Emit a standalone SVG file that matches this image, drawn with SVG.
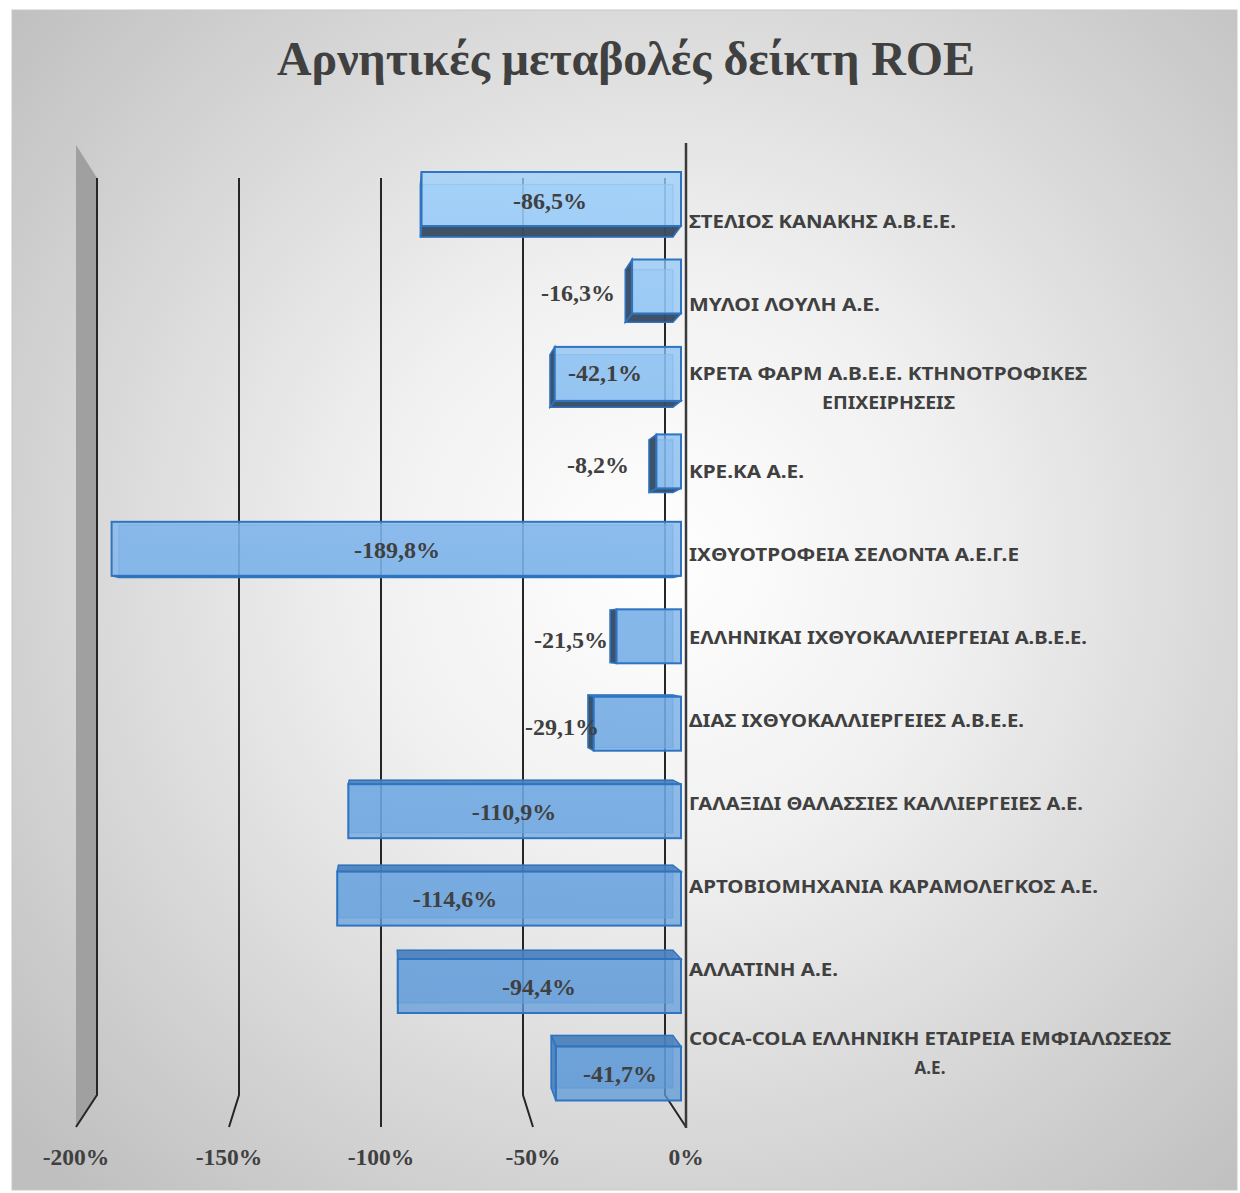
<svg xmlns="http://www.w3.org/2000/svg" width="1240" height="1193" viewBox="0 0 1240 1193">
<defs>
<radialGradient id="bg" gradientUnits="userSpaceOnUse" cx="660" cy="560" r="860">
<stop offset="0" stop-color="#ffffff"/>
<stop offset="0.35" stop-color="#f0f0f0"/>
<stop offset="1" stop-color="#bfbfbf"/>
</radialGradient>
<linearGradient id="barg" gradientUnits="userSpaceOnUse" x1="0" y1="170" x2="0" y2="1100">
<stop offset="0" stop-color="#9ccffa"/>
<stop offset="0.42" stop-color="#7bb2ea"/>
<stop offset="1" stop-color="#5e99d6"/>
</linearGradient>
<style>
.grid{fill:none;stroke:#262626;stroke-width:2}
.axis{fill:none;stroke:#3a3a3a;stroke-width:2.5}
.back{fill:url(#barg);fill-opacity:0.55;stroke:#5b9be0;stroke-opacity:0.7;stroke-width:1.2}
.front{fill:url(#barg);fill-opacity:0.76;stroke:#2f74c0;stroke-width:2}
.dark{fill:#33475c;fill-opacity:0.92;stroke:#2f74c0;stroke-width:1.5}
.topf{fill:#4a7db8;fill-opacity:0.85;stroke:#2f74c0;stroke-width:1.5}
.val{font-family:"Liberation Serif","Times New Roman",serif;font-weight:bold;font-size:24px;fill:#404040;text-anchor:middle}
.cat{font-family:"Noto Sans","Open Sans","Liberation Sans",sans-serif;font-weight:bold;font-size:17px;fill:#404040}
.tick{font-family:"Liberation Serif","Times New Roman",serif;font-weight:bold;font-size:23.5px;fill:#404040;text-anchor:middle}
</style>
</defs>
<rect x="0" y="0" width="1240" height="1193" fill="#ffffff"/>
<rect id="chartArea" x="12" y="10" width="1225" height="1180" fill="url(#bg)" stroke="#c8c8c8" stroke-width="1"/>
<text id="title" x="626" y="75" font-family="'Liberation Serif','Times New Roman',serif" font-weight="bold" font-size="48" fill="#404040" text-anchor="middle" textLength="698" lengthAdjust="spacingAndGlyphs">Αρνητικές μεταβολές δείκτη ROE</text>

<g id="walls">
<polygon points="76,145 97,178 97,1095 76,1127" fill="#a0a0a0"/>
</g>
<g id="gridlines">
<polyline class="grid" points="97,178 97,1095 76,1127"/>
<polyline class="grid" points="239,178 239,1095 229,1127"/>
<polyline class="grid" points="381,178 381,1127"/>
<polyline class="grid" points="523,178 523,1095 533,1127"/>
<polyline class="grid" points="665,178 665,1095 686,1127"/>
</g>

<g id="bars">
<g id="bar1">
<rect class="back" x="420.4" y="184.5" width="252.5" height="52.6"/>
<polygon class="dark" points="421.5,226 681,226 672.9,237.1 420.4,237.1"/>
<polygon class="dark" points="421.5,172 421.5,226 420.4,237.1 420.4,184.5"/>
<rect class="front" x="421.5" y="172" width="259.5" height="54"/>
</g>
<g id="bar2">
<rect class="back" x="625.3" y="269.7" width="47.6" height="52.5"/>
<polygon class="dark" points="632.1,313.5 681,313.5 672.9,322.2 625.3,322.2"/>
<polygon class="dark" points="632.1,259.5 632.1,313.5 625.3,322.2 625.3,269.7"/>
<rect class="front" x="632.1" y="259.5" width="48.9" height="54"/>
</g>
<g id="bar3">
<rect class="back" x="550" y="354.7" width="122.9" height="52.5"/>
<polygon class="dark" points="554.7,400.9 681,400.9 672.9,407.2 550,407.2"/>
<polygon class="dark" points="554.7,346.9 554.7,400.9 550,407.2 550,354.7"/>
<rect class="front" x="554.7" y="346.9" width="126.3" height="54"/>
</g>
<g id="bar4">
<rect class="back" x="649" y="439.8" width="23.9" height="52.6"/>
<polygon class="dark" points="656.4,488.4 681,488.4 672.9,492.4 649,492.4"/>
<polygon class="dark" points="656.4,434.4 656.4,488.4 649,492.4 649,439.8"/>
<rect class="front" x="656.4" y="434.4" width="24.6" height="54"/>
</g>
<g id="bar5">
<rect class="back" x="118.9" y="524.9" width="554" height="52.5"/>
<polygon class="dark" points="111.6,575.8 681,575.8 672.9,577.4 118.9,577.4"/>
<rect class="front" x="111.6" y="521.8" width="569.4" height="54"/>
</g>
<g id="bar6">
<rect class="back" x="610.1" y="610" width="62.8" height="52.6"/>
<polygon class="dark" points="616.5,609.3 616.5,663.3 610.1,662.6 610.1,610"/>
<rect class="front" x="616.5" y="609.3" width="64.5" height="54"/>
</g>
<g id="bar7">
<rect class="back" x="588" y="695.1" width="84.9" height="52.5"/>
<polygon class="topf" points="593.7,696.7 681,696.7 672.9,695.1 588,695.1"/>
<polygon class="dark" points="593.7,696.7 593.7,750.7 588,747.6 588,695.1"/>
<rect class="front" x="593.7" y="696.7" width="87.3" height="54"/>
</g>
<g id="bar8">
<rect class="back" x="349.2" y="780.2" width="323.7" height="52.5"/>
<polygon class="topf" points="348.3,784.2 681,784.2 672.9,780.2 349.2,780.2"/>
<rect class="front" x="348.3" y="784.2" width="332.7" height="54"/>
</g>
<g id="bar9">
<rect class="back" x="338.4" y="865.2" width="334.5" height="52.6"/>
<polygon class="topf" points="337.2,871.6 681,871.6 672.9,865.2 338.4,865.2"/>
<rect class="front" x="337.2" y="871.6" width="343.8" height="54"/>
</g>
<g id="bar10">
<rect class="back" x="397.3" y="950.3" width="275.6" height="52.5"/>
<polygon class="topf" points="397.8,959 681,959 672.9,950.3 397.3,950.3"/>
<rect class="front" x="397.8" y="959" width="283.2" height="54"/>
</g>
<g id="bar11">
<rect class="back" x="551.2" y="1035.4" width="121.7" height="52.6"/>
<polygon class="topf" points="555.9,1046.5 681,1046.5 672.9,1035.4 551.2,1035.4"/>
<polygon class="topf" points="555.9,1046.5 555.9,1100.5 551.2,1088 551.2,1035.4"/>
<rect class="front" x="555.9" y="1046.5" width="125.1" height="54"/>
</g>
</g>

<g id="axisLine">
<line class="axis" x1="686" y1="143" x2="686" y2="1128"/>
</g>

<g id="valueLabels">
<text class="val" x="550" y="209">-86,5%</text>
<text class="val" x="578" y="301">-16,3%</text>
<text class="val" x="605" y="381">-42,1%</text>
<text class="val" x="598" y="473">-8,2%</text>
<text class="val" x="397" y="558">-189,8%</text>
<text class="val" x="571" y="648">-21,5%</text>
<text class="val" x="562" y="735">-29,1%</text>
<text class="val" x="514" y="820">-110,9%</text>
<text class="val" x="455" y="907">-114,6%</text>
<text class="val" x="539" y="995">-94,4%</text>
<text class="val" x="620" y="1082">-41,7%</text>
</g>

<g id="categoryLabels">
<text class="cat" x="689" y="228" textLength="267" lengthAdjust="spacingAndGlyphs">ΣΤΕΛΙΟΣ ΚΑΝΑΚΗΣ Α.Β.Ε.Ε.</text>
<text class="cat" x="689" y="311" textLength="191" lengthAdjust="spacingAndGlyphs">ΜΥΛΟΙ ΛΟΥΛΗ Α.Ε.</text>
<text class="cat" x="689" y="380" textLength="398" lengthAdjust="spacingAndGlyphs">ΚΡΕΤΑ ΦΑΡΜ Α.Β.Ε.Ε. ΚΤΗΝΟΤΡΟΦΙΚΕΣ</text>
<text class="cat" x="888.5" y="409" text-anchor="middle" textLength="133" lengthAdjust="spacingAndGlyphs">ΕΠΙΧΕΙΡΗΣΕΙΣ</text>
<text class="cat" x="689" y="478" textLength="115" lengthAdjust="spacingAndGlyphs">ΚΡΕ.ΚΑ Α.Ε.</text>
<text class="cat" x="689" y="561" textLength="330" lengthAdjust="spacingAndGlyphs">ΙΧΘΥΟΤΡΟΦΕΙΑ ΣΕΛΟΝΤΑ Α.Ε.Γ.Ε</text>
<text class="cat" x="689" y="644" textLength="398" lengthAdjust="spacingAndGlyphs">ΕΛΛΗΝΙΚΑΙ ΙΧΘΥΟΚΑΛΛΙΕΡΓΕΙΑΙ Α.Β.Ε.Ε.</text>
<text class="cat" x="689" y="727" textLength="335" lengthAdjust="spacingAndGlyphs">ΔΙΑΣ ΙΧΘΥΟΚΑΛΛΙΕΡΓΕΙΕΣ Α.Β.Ε.Ε.</text>
<text class="cat" x="689" y="810" textLength="394" lengthAdjust="spacingAndGlyphs">ΓΑΛΑΞΙΔΙ ΘΑΛΑΣΣΙΕΣ ΚΑΛΛΙΕΡΓΕΙΕΣ Α.Ε.</text>
<text class="cat" x="689" y="893" textLength="409" lengthAdjust="spacingAndGlyphs">ΑΡΤΟΒΙΟΜΗΧΑΝΙΑ ΚΑΡΑΜΟΛΕΓΚΟΣ Α.Ε.</text>
<text class="cat" x="689" y="976" textLength="149" lengthAdjust="spacingAndGlyphs">ΑΛΛΑΤΙΝΗ Α.Ε.</text>
<text class="cat" x="689" y="1045" textLength="482" lengthAdjust="spacingAndGlyphs">COCA-COLA ΕΛΛΗΝΙΚΗ ΕΤΑΙΡΕΙΑ ΕΜΦΙΑΛΩΣΕΩΣ</text>
<text class="cat" x="930" y="1074" text-anchor="middle">Α.Ε.</text>
</g>

<g id="tickLabels">
<text class="tick" x="76" y="1165">-200%</text>
<text class="tick" x="229" y="1165">-150%</text>
<text class="tick" x="381" y="1165">-100%</text>
<text class="tick" x="533" y="1165">-50%</text>
<text class="tick" x="686" y="1165">0%</text>
</g>
</svg>
